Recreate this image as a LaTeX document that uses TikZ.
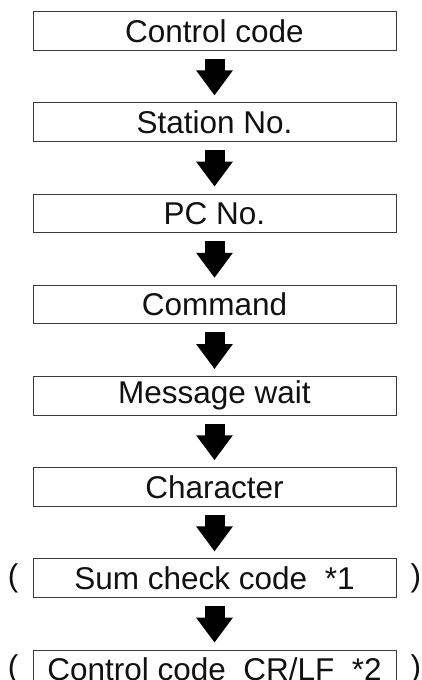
\documentclass[tikz,border=0pt]{standalone}
\usepackage{fontspec}
\setmainfont{Liberation Sans}
\usepackage{tikz}
\usetikzlibrary{arrows.meta,positioning}

\definecolor{boxline}{HTML}{3A3A3A}
\definecolor{ink}{HTML}{111111}

\begin{document}
\begin{tikzpicture}[x=1pt,y=-1pt,
			every node/.style={text=ink,font=\fontsize{31.5}{36}\selectfont},
			stage/.style={draw=boxline,line width=1pt,minimum width=363pt,minimum height=38.5pt,inner sep=0pt},
			paren/.style={inner sep=0pt},
			flow/.style={line width=20pt,draw=black,-{Triangle[width=35pt,length=25pt]}},
			node distance=51.7pt]

			\useasboundingbox (0,0) rectangle (422,680);

			\node [stage] (ctrl) at (214.5,31) {Control code};
			\node [stage,below=of ctrl] (station) {Station No.};
			\node [stage,below=of station] (pc) {PC No.};
			\node [stage,below=of pc] (cmd) {Command};
			\node [stage,below=of cmd] (wait) {Message wait};
			\node [stage,below=of wait] (chars) {Character};
			\node [stage,below=of chars] (sum) {Sum check code\ \ *1};
			\node [stage,below=of sum] (crlf) {Control code\ \ CR/LF\ \ *2};

			% optional parts
			\node [paren,left=14pt of sum] (sumL) {(};
			\node [paren,right=14pt of sum] (sumR) {)};
			\node [paren,left=14pt of crlf] (crlfL) {(};
			\node [paren,right=14pt of crlf] (crlfR) {)};

			\foreach \a/\b in {ctrl/station,station/pc,pc/cmd,cmd/wait,wait/chars,chars/sum,sum/crlf}
				\draw [flow] ([yshift=-8pt]\a.south) -- ([yshift=7pt]\b.north);
	\end{tikzpicture}
\end{document}
